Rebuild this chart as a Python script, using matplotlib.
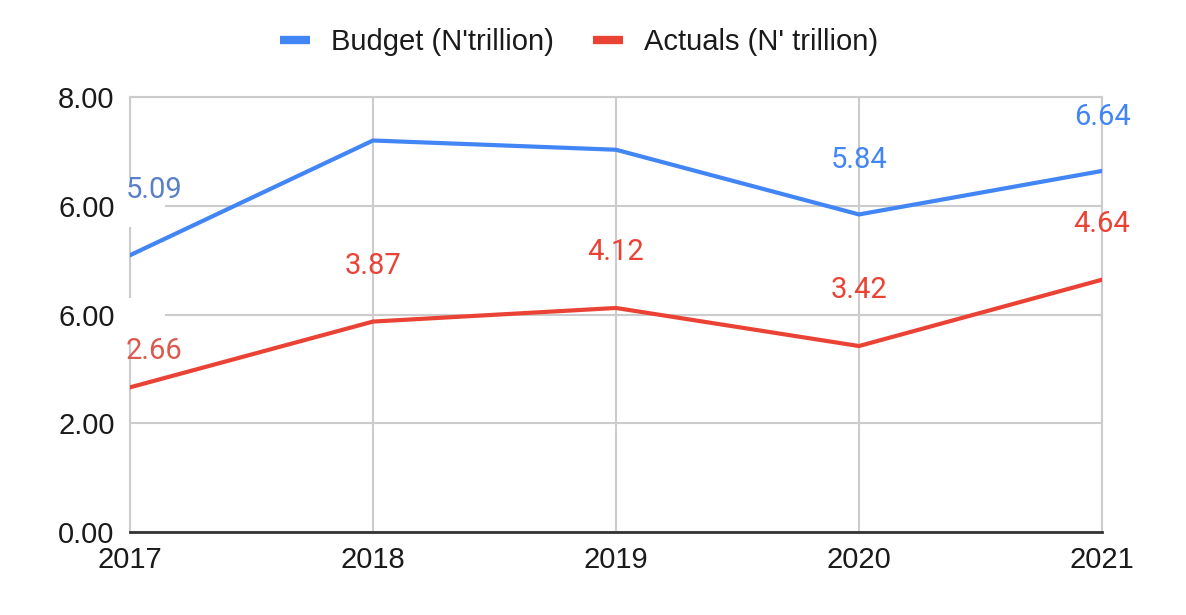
import matplotlib
matplotlib.use("Agg")
import matplotlib.pyplot as plt
from matplotlib.patches import Rectangle
from matplotlib.lines import Line2D
import matplotlib.transforms as mtransforms

years = [2017, 2018, 2019, 2020, 2021]
budget = [5.09, 7.20, 7.03, 5.84, 6.64]
actuals = [2.66, 3.87, 4.12, 3.42, 4.64]
budget_labels = ["5.09", "", "", "5.84", "6.64"]
actual_labels = ["2.66", "3.87", "4.12", "3.42", "4.64"]
ytick_vals = [0, 2, 4, 6, 8]
ytick_labels = ["0.00", "2.00", "6.00", "6.00", "8.00"]
series_names = ["Budget (N'trillion)", "Actuals (N' trillion)"]

BLUE = "#4285F4"
RED = "#EA4335"
BLUE_ODD = "#5A80C8"
RED_ODD = "#DB5A4C"

plt.rcParams['font.family'] = ['Liberation Sans', 'DejaVu Sans']

fig = plt.figure(figsize=(11.86, 6.15), dpi=100)
ax = fig.add_axes([130/1186, 1-532/615, (1102-130)/1186, (532-97)/615])
ax.set_xlim(years[0], years[-1])
ax.set_ylim(0, 8)

ax.set_axisbelow(True)
ax.grid(True, color="#cccccc", linewidth=1.5)
ax.set_yticks(ytick_vals)
ax.set_yticklabels(ytick_labels)
ax.set_xticks(years)
ax.set_xticklabels([str(y) for y in years])
ax.tick_params(axis='both', length=0, labelsize=21, colors="#1a1a1a")
ax.tick_params(axis='y', pad=11)
ax.tick_params(axis='x', pad=10)
for s in ['top', 'right', 'left']:
    ax.spines[s].set_color("#cccccc")
    ax.spines[s].set_linewidth(1.5)
ax.spines['bottom'].set_color("#333333")
ax.spines['bottom'].set_linewidth(2)

# white patches behind the odd "6.00" labels
trans = mtransforms.blended_transform_factory(ax.transAxes, ax.transData)
ax.add_patch(Rectangle((-0.012, 5.61), 0.048, 0.90, transform=trans,
                       facecolor="white", edgecolor="none", zorder=2.6, clip_on=False))
ax.add_patch(Rectangle((-0.012, 3.49), 0.048, 0.81, transform=trans,
                       facecolor="white", edgecolor="none", zorder=2.6, clip_on=False))

ax.plot(years, budget, color=BLUE, linewidth=3, zorder=3, solid_joinstyle='miter')
ax.plot(years, actuals, color=RED, linewidth=3, zorder=3, solid_joinstyle='miter')

lab_font = ['Roboto', 'DejaVu Sans']
LFS = 21
for i, (x, y, t) in enumerate(zip(years, budget, budget_labels)):
    if not t:
        continue
    if i == 0:
        ax.annotate(t, (x, y), xytext=(-3, 47), textcoords='offset points',
                    ha='left', va='center', fontsize=LFS, color=BLUE_ODD,
                    family=lab_font, zorder=4, annotation_clip=False)
    else:
        ax.annotate(t, (x, y), xytext=(0, 39), textcoords='offset points',
                    ha='center', va='center', fontsize=LFS, color=BLUE,
                    family=lab_font, zorder=4, annotation_clip=False)
for i, (x, y, t) in enumerate(zip(years, actuals, actual_labels)):
    if i == 0:
        ax.annotate(t, (x, y), xytext=(-3, 26), textcoords='offset points',
                    ha='left', va='center', fontsize=LFS, color=RED_ODD,
                    family=lab_font, zorder=4, annotation_clip=False)
    else:
        ax.annotate(t, (x, y), xytext=(0, 40), textcoords='offset points',
                    ha='center', va='center', fontsize=LFS, color=RED,
                    family=lab_font, zorder=4, annotation_clip=False)

handles = [Line2D([0], [0], color=BLUE, linewidth=6, solid_capstyle='butt'),
           Line2D([0], [0], color=RED, linewidth=6, solid_capstyle='butt')]
fig.legend(handles, series_names, loc='center', bbox_to_anchor=(579/1186, 1-42/615),
           ncol=2, frameon=False, fontsize=21, handlelength=1.0, handletextpad=0.72,
           columnspacing=1.37, labelcolor="#1a1a1a")

fig.savefig("out.png", dpi=100, facecolor="white")
